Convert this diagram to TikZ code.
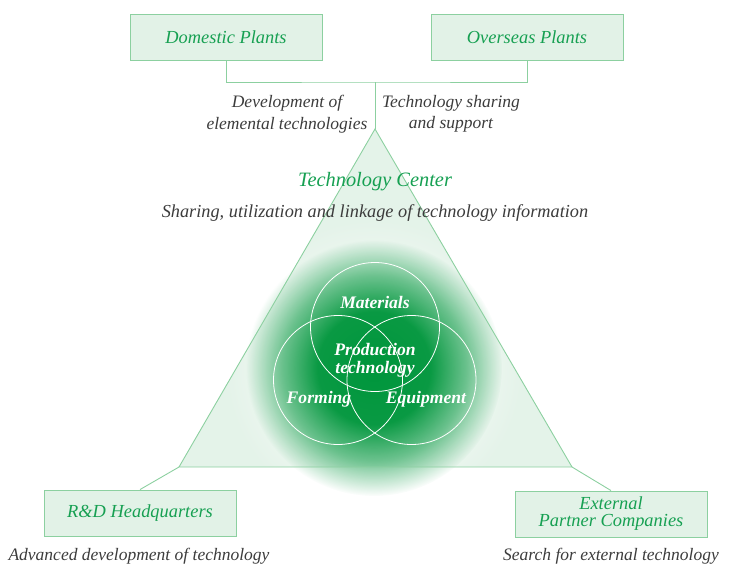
\documentclass[tikz,border=0pt]{standalone}
\usepackage{fontspec}
\setmainfont{Liberation Serif}
\usetikzlibrary{fadings}
\definecolor{boxfill}{RGB}{226,242,231}
\definecolor{boxline}{RGB}{140,208,160}
\definecolor{grtext}{RGB}{22,160,82}
\definecolor{graytext}{RGB}{60,60,60}
\definecolor{glowgreen}{RGB}{0,150,60}
\definecolor{trifill}{RGB}{228,243,233}
\pgfdeclareradialshading{glowshade}{\pgfpointorigin}{color(0bp)=(pgftransparent!0); color(11bp)=(pgftransparent!4); color(18bp)=(pgftransparent!45); color(25bp)=(pgftransparent!100); color(50bp)=(pgftransparent!100)}
\pgfdeclarefading{glowfade}{\pgfuseshading{glowshade}}
\pgfdeclareradialshading{haloshade}{\pgfpointorigin}{color(0bp)=(pgftransparent!40); color(16bp)=(pgftransparent!55); color(25bp)=(pgftransparent!100); color(50bp)=(pgftransparent!100)}
\pgfdeclarefading{halofade}{\pgfuseshading{haloshade}}
\tikzset{
  box/.style={draw=boxline, fill=boxfill, line width=0.9pt, minimum width=192pt, minimum height=46pt, inner sep=0pt, text=grtext, font=\fontsize{18.4}{18}\selectfont\itshape, align=center},
  conn/.style={draw=boxline, line width=0.9pt},
  note/.style={text=graytext, font=\fontsize{17.5}{21.5}\selectfont\itshape, align=center, inner sep=0pt},
  venn/.style={draw=white, line width=0.8pt},
  vlabel/.style={text=white, font=\fontsize{17.6}{18}\selectfont\bfseries\itshape, align=center, inner sep=0pt}
}
\begin{document}
\begin{tikzpicture}[x=1pt,y=-1pt]
\useasboundingbox (0,0) rectangle (749,568);
% triangle
\coordinate (apex) at (375,129);
\coordinate (bl) at (179,467);
\coordinate (br) at (572,467);
\fill[trifill] (apex) -- (bl) -- (br) -- cycle;
% glow
\fill[white, path fading=halofade] (374,368) circle (150);
\fill[glowgreen, path fading=glowfade] (374,368) circle (128);
\draw[conn] (apex) -- (bl) -- (br) -- cycle;
% boxes
\node[box] (dom) at (226,37) {Domestic Plants};
\node[box] (ovs) at (527,37) {Overseas Plants};
\node[box] (rd) at (140,513) {R\&D Headquarters};
\node[box, font=\fontsize{18.4}{17}\selectfont\itshape] (ext) at (611,514) {External\\Partner Companies};
% connectors
\coordinate (jn) at (375,82);
\draw[conn] (dom.south) |- (jn) -| (ovs.south);
\draw[conn] (jn) -- (apex);
\draw[conn] (bl) -- (rd.north);
\draw[conn] (br) -- (ext.north);
% notes
\node[note] (n1) at (287,114) {Development of\\elemental technologies};
\node[note] (n2) at (451,114) {Technology sharing\\and support};
\node[text=grtext, font=\fontsize{20.4}{22}\selectfont\itshape] (tc) at (375,182) {Technology Center};
\node[note, font=\fontsize{18.3}{21}\selectfont\itshape] (share) at (375,213) {Sharing, utilization and linkage of technology information};
\node[note] (adv) at (139,556) {Advanced development of technology};
\node[note] (srch) at (611,556) {Search for external technology};
% venn
\draw[venn] (375,327) circle (64.5);
\draw[venn] (338,380) circle (64.5);
\draw[venn] (411.5,380) circle (64.5);
\node[vlabel] (mat) at (375,302) {Materials};
\node[vlabel] (prod) at (375,360) {Production\\technology};
\node[vlabel] (form) at (319,399) {Forming};
\node[vlabel] (equip) at (426,399) {Equipment};
\end{tikzpicture}
\end{document}
